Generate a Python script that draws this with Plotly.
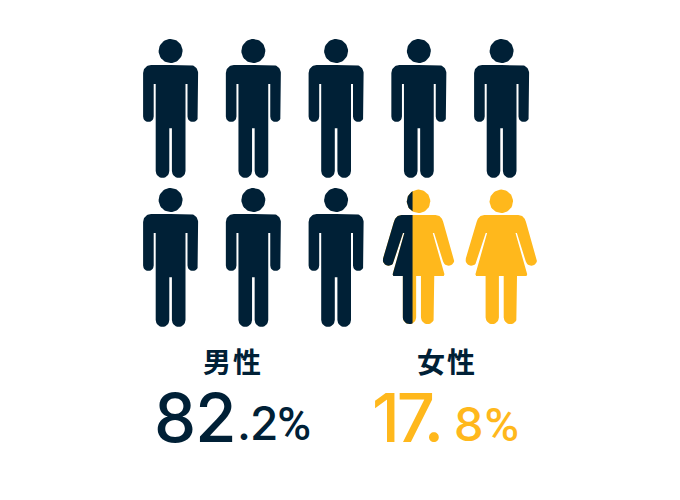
import math
import plotly.graph_objects as go

# ---- data ----
labels = ["男性", "女性"]
shares = [82.2, 17.8]
icons = ["m", "m", "m", "m", "m",
         "m", "m", "m", "f", "f"]
split_icon_index = 8
split_fraction = 0.416   # part of the split icon painted in the first colour
colors = ["#002036", "#FFB81C"]

PER_ROW = 5
X0, DX = 170.6, 82.75
Y0, DY = 51.0, 149.0
WOMAN_DY = 1.3


def arc(cx, cy, r, a0, a1, n=14):
    return [(cx + r * math.cos(math.radians(a0 + (a1 - a0) * i / n)),
             cy + r * math.sin(math.radians(a0 + (a1 - a0) * i / n))) for i in range(n + 1)]


def mirrored(half):
    return half + [(-x, y) for x, y in reversed(half)]


def man_outline():
    half = [(0, 14)] + arc(19.5, 22, 8, -90, 0) + arc(22.2, 65.6, 5.3, 0, 180) \
        + [(16.9, 33), (14.9, 33)] + arc(8.1, 120.0, 6.8, 0, 180) + [(1.3, 77.3), (0, 77.3)]
    return mirrored(half)


def woman_outline():
    half = [(0, 13.7), (17, 13.7), (20.8, 14.8), (23.4, 17.4), (24.6, 20.5)] \
        + arc(30, 58.7, 5.7, -16, 164) + [(15.6, 31.8), (14.2, 31.8), (25.9, 73), (25.2, 74.7), (15.7, 74.7)] \
        + arc(9.05, 116.1, 6.65, 0, 180) + [(2.4, 74.7), (0, 74.7)]
    return mirrored(half)


def circle(r):
    return arc(0, 0, r, 0, 360, 48)


def clip_left(poly, xmax):
    out = []
    for i, (x1, y1) in enumerate(poly):
        x2, y2 = poly[(i + 1) % len(poly)]
        if x1 <= xmax:
            out.append((x1, y1))
        if (x1 <= xmax) != (x2 <= xmax):
            t = (xmax - x1) / (x2 - x1)
            out.append((xmax, y1 + t * (y2 - y1)))
    return out


def add_poly(fig, poly, cx, cy, color):
    xs = [cx + p[0] for p in poly] + [cx + poly[0][0]]
    ys = [cy + p[1] for p in poly] + [cy + poly[0][1]]
    fig.add_trace(go.Scatter(x=xs, y=ys, mode="lines", fill="toself", fillcolor=color,
                             line=dict(width=0, color=color), hoverinfo="skip", showlegend=False))


fig = go.Figure()
for i, kind in enumerate(icons):
    cx = X0 + DX * (i % PER_ROW)
    cy = Y0 + DY * (i // PER_ROW)
    if kind == "m":
        body, head, color = man_outline(), circle(12), colors[0]
    else:
        cy += WOMAN_DY
        cx += -0.3
        body, head, color = woman_outline(), circle(11.7), colors[1]
    add_poly(fig, body, cx, cy, color)
    add_poly(fig, head, cx, cy, color)
    if i == split_icon_index:
        left = min(p[0] for p in body)
        right = max(p[0] for p in body)
        xsplit = left + (right - left) * split_fraction
        add_poly(fig, clip_left(body, xsplit), cx, cy, colors[0])
        add_poly(fig, clip_left(head, xsplit), cx, cy, colors[0])

NUM_FONT = "Inter"
PCT_FONT = "Roboto"
CJK_FONT = "Noto Sans CJK JP"


def text(x, y, s, size, color, family, weight=500, anchor="left"):
    fig.add_annotation(x=x, y=y, text=s, showarrow=False, xref="x", yref="y",
                       xanchor=anchor, yanchor="middle", align="left",
                       font=dict(family=family, size=size, color=color, weight=weight))


def tight(s, spacing):
    return f'<span style="letter-spacing:{spacing}px">{s}</span>'


PCT = f'<span style="font-family:{PCT_FONT}">%</span>'

m_int, m_dec = f"{shares[0]:.1f}".split(".")
f_int, f_dec = f"{shares[1]:.1f}".split(".")

text(232.5, 361, tight(labels[0], 2), 28, colors[0], CJK_FONT, 700, "center")
text(446.5, 361, tight(labels[1], 2), 28, colors[0], CJK_FONT, 700, "center")

text(152, 417, tight(m_int, -1), 67, colors[0], NUM_FONT, 500)
text(235, 423, tight(f".{m_dec}", -1) + PCT, 46, colors[0], NUM_FONT, 500)
text(370, 417, tight(f"{f_int}.", -3), 67, colors[1], NUM_FONT, 500)
text(452, 423, tight(f_dec, 1) + PCT, 47, colors[1], NUM_FONT, 500)

# the page body has an 8px margin, so the plot is inset and the axes are aligned to window pixels
fig.update_layout(
    width=664, height=484,
    margin=dict(l=0, r=0, t=0, b=0),
    paper_bgcolor="white", plot_bgcolor="white",
    showlegend=False,
    xaxis=dict(range=[8, 672], visible=False, fixedrange=True),
    yaxis=dict(range=[492, 8], visible=False, fixedrange=True),
)
fig.write_html("out.html", config=dict(displayModeBar=False))
